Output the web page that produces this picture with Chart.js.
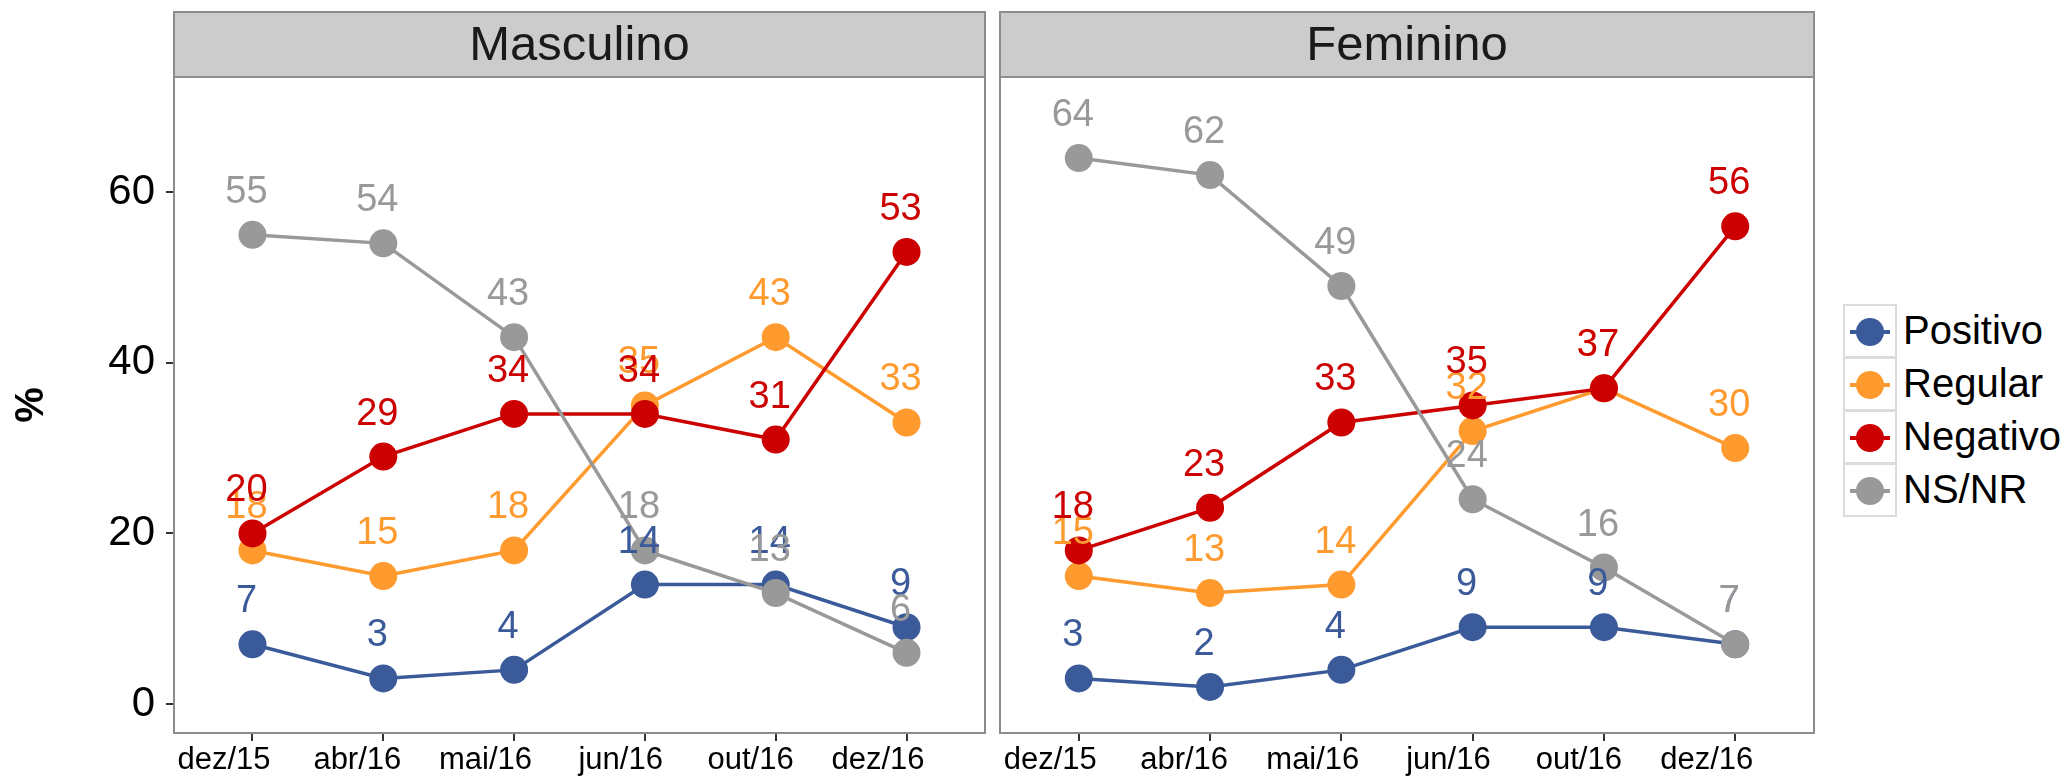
<!DOCTYPE html>
<html><head><meta charset="utf-8">
<script src="https://cdn.jsdelivr.net/npm/chart.js@4.4.1/dist/chart.umd.min.js"></script>
<style>
html,body{margin:0;padding:0;background:#fff;}
#wrap{position:relative;width:2060px;height:780px;overflow:hidden;background:#fff;}
canvas{position:absolute;top:0;}
#c1{left:0;}
#c2{left:990px;}
#legend{position:absolute;left:1843px;top:304px;font-family:'Liberation Sans',Arial,sans-serif;}
.row{position:relative;height:53px;width:215px;}
.key{position:absolute;left:0;top:0;width:54px;height:54px;box-sizing:border-box;border:2px solid #dcdcdc;background:#fff;}
.kline{position:absolute;left:5px;top:24px;width:40px;height:3.5px;}
.kdot{position:absolute;left:11px;top:11.5px;width:28px;height:28px;border-radius:50%;}
.ktxt{position:absolute;left:60px;top:0;line-height:53px;font-size:40px;color:#000;white-space:nowrap;}
</style>
</head>
<body>
<div id="wrap">
<canvas id="c1" width="990" height="780"></canvas>
<canvas id="c2" width="840" height="780"></canvas>
<div id="legend"></div>
</div>
<script>
// ---- data ----
const categories = ['dez/15','abr/16','mai/16','jun/16','out/16','dez/16'];
const seriesNames = ['Positivo','Regular','Negativo','NS/NR'];
const seriesColors = ['#3B5A9A','#FF9A2E','#CC0000','#999999'];
const yTicks = [0,20,40,60];
const panelTitles = ['Masculino','Feminino'];

const mascPositivo = [7, 3, 4, 14, 14, 9];
const mascRegular  = [18, 15, 18, 35, 43, 33];
const mascNegativo = [20, 29, 34, 34, 31, 53];
const mascNSNR     = [55, 54, 43, 18, 13, 6];

const femPositivo = [3, 2, 4, 9, 9, 7];
const femRegular  = [15, 13, 14, 32, 37, 30];
const femNegativo = [18, 23, 33, 35, 37, 56];
const femNSNR     = [64, 62, 49, 24, 16, 7];

const FONT = "'Liberation Sans', Arial, sans-serif";
const STRIP_TOP = 12;

function makeDatasets(arrs){
  return arrs.map((vals, k) => ({
    label: seriesNames[k],
    data: vals.map((v, i) => ({x: i, y: v})),
    borderColor: seriesColors[k],
    backgroundColor: seriesColors[k],
    pointBackgroundColor: seriesColors[k],
    pointBorderWidth: 0,
    pointRadius: 14,
    pointHoverRadius: 14,
    borderWidth: 3.5,
    tension: 0,
    order: arrs.length - 1 - k
  }));
}

const panelPlugin = {
  id: 'panelFrame',
  beforeDraw(chart){
    const {ctx, chartArea: a} = chart;
    ctx.save();
    ctx.fillStyle = '#CCCCCC';
    ctx.fillRect(a.left, STRIP_TOP, a.right - a.left, a.top - STRIP_TOP);
    ctx.restore();
  },
  afterDraw(chart){
    const {ctx, chartArea: a} = chart;
    ctx.save();
    ctx.strokeStyle = '#8C8C8C';
    ctx.lineWidth = 2;
    ctx.strokeRect(a.left, STRIP_TOP, a.right - a.left, a.bottom - STRIP_TOP);
    ctx.beginPath();
    ctx.moveTo(a.left, a.top); ctx.lineTo(a.right, a.top);
    ctx.stroke();
    ctx.restore();
  }
};

const labelPlugin = {
  id: 'valueLabels',
  afterDatasetsDraw(chart){
    const ctx = chart.ctx;
    ctx.save();
    ctx.font = '38px ' + FONT;
    ctx.textAlign = 'center';
    ctx.textBaseline = 'alphabetic';
    chart.data.datasets.forEach((ds, di) => {
      const meta = chart.getDatasetMeta(di);
      ctx.fillStyle = ds.borderColor;
      meta.data.forEach((pt, i) => {
        ctx.fillText(String(ds.data[i].y), pt.x - 6, pt.y - 32);
      });
    });
    ctx.restore();
  }
};

function makeChart(id, title, arrs, showY){
  const yScale = {
    type: 'linear',
    min: -3.4, max: 73.5,
    display: showY,
    afterBuildTicks: s => { s.ticks = yTicks.map(v => ({value: v})); },
    afterFit: s => { if (showY) s.width = 174; s.paddingTop = 0; s.paddingBottom = 0; },
    border: {display: false},
    grid: {display: true, drawOnChartArea: false, drawTicks: true, tickLength: 8, color: '#333333', lineWidth: 2},
    ticks: {color: '#000', padding: 11, font: {family: FONT, size: 42}},
    title: {display: true, text: '%', color: '#000', font: {family: FONT, size: 40, weight: 'bold'}, padding: {top: 8, bottom: 0}}
  };
  return new Chart(document.getElementById(id), {
    type: 'line',
    data: {datasets: makeDatasets(arrs)},
    options: {
      responsive: false,
      animation: false,
      events: [],
      devicePixelRatio: 1,
      layout: {autoPadding: false,
               padding: showY ? {top: STRIP_TOP, left: 0, right: 5, bottom: 0} : {top: STRIP_TOP, left: 10, right: 16, bottom: 0}},
      plugins: {
        legend: {display: false},
        tooltip: {enabled: false},
        title: {display: true, text: title, fullSize: false, align: 'center', color: '#1A1A1A',
                font: {family: FONT, size: 49, weight: 'normal'}, padding: {top: 5, bottom: 1.2}}
      },
      scales: {
        x: {
          type: 'linear',
          min: -0.6, max: 5.6,
          afterBuildTicks: s => { s.ticks = categories.map((c, i) => ({value: i})); },
          afterFit: s => { s.height = 47; s.paddingLeft = 0; s.paddingRight = 0; },
          border: {display: false},
          grid: {display: true, drawOnChartArea: false, drawTicks: true, tickLength: 8, color: '#333333', lineWidth: 2},
          ticks: {color: '#000', padding: 1, align: 'end', labelOffset: 18, maxRotation: 0, autoSkip: false,
                  font: {family: FONT, size: 31}, callback: v => categories[v]}
        },
        y: yScale
      }
    },
    plugins: [panelPlugin, labelPlugin]
  });
}

makeChart('c1', panelTitles[0], [mascPositivo, mascRegular, mascNegativo, mascNSNR], true);
makeChart('c2', panelTitles[1], [femPositivo, femRegular, femNegativo, femNSNR], false);

// legend
const lg = document.getElementById('legend');
seriesNames.forEach((n, k) => {
  const row = document.createElement('div');
  row.className = 'row';
  row.innerHTML = '<div class="key"><div class="kline" style="background:' + seriesColors[k] + '"></div>' +
    '<div class="kdot" style="background:' + seriesColors[k] + '"></div></div>' +
    '<div class="ktxt">' + n + '</div>';
  lg.appendChild(row);
});
</script>
</body></html>
